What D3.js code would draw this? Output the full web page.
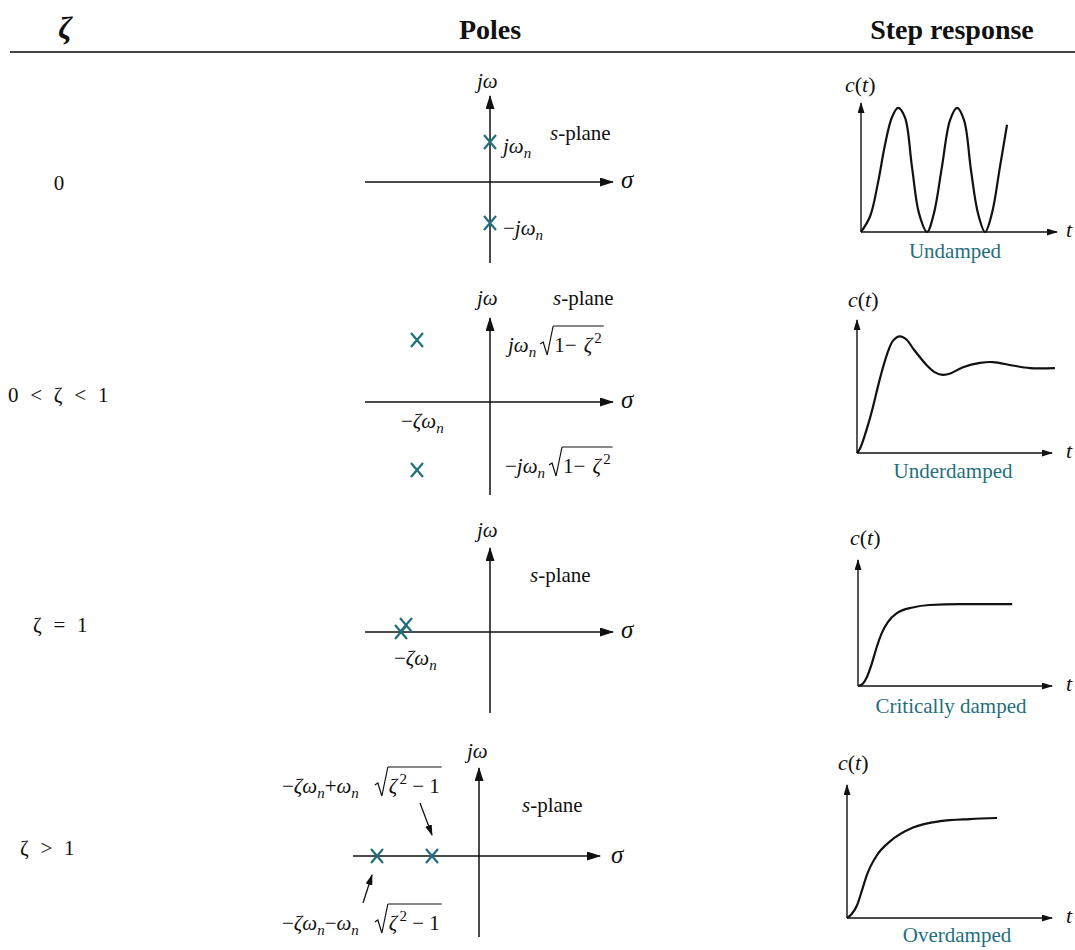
<!doctype html>
<html lang="en">
<head>
<meta charset="utf-8">
<title>Second-order system: damping ratio, poles and step response</title>
<script src="https://cdn.jsdelivr.net/npm/d3@7"></script>
<style>
  body { margin: 0; background: #fff; }
  svg { display: block; }
  text { font-family: "Liberation Serif", "Times New Roman", serif; fill: #111; }
</style>
</head>
<body>
<svg id="chart"></svg>
<script>
// ---- data ----
var headers = ["ζ", "Poles", "Step response"];
var zetaLabels = ["0", "0 < ζ < 1", "ζ = 1", "ζ > 1"];
var captions = ["Undamped", "Underdamped", "Critically damped", "Overdamped"];

// poles as [sigma, omega] in s-plane units
var polesUndamped = [[0, 0.40], [0, -0.41]];
var polesUnder = [[-0.73, 0.62], [-0.73, -0.68]];
var polesCritical = [[-0.89, 0], [-0.84, 0.07]];
var polesOver = [[-1.02, 0], [-0.47, 0]];

// step responses c(t) as [t, c]
var stepUndamped = [[0, 0], [0.46, 0.25], [0.87, 0.8], [1.22, 1.4], [1.58, 1.85], [1.89, 2.0], [2.24, 1.85],
  [2.6, 1.05], [2.96, 0.3], [3.37, 0], [3.72, 0.3], [4.13, 1.05], [4.54, 1.8], [4.9, 2.0], [5.26, 1.8],
  [5.61, 1.0], [5.97, 0.3], [6.33, 0], [6.68, 0.3], [7.09, 1.05], [7.45, 1.73]];
var stepUnder = [[0, 0], [0.15, 0.05], [0.67, 0.41], [1.18, 0.87], [1.54, 1.15], [1.85, 1.31], [2.2, 1.36],
  [2.55, 1.32], [2.87, 1.22], [3.59, 1.02], [4.0, 0.94], [4.41, 0.91], [4.82, 0.93], [5.44, 1.0],
  [6.31, 1.05], [6.97, 1.06], [7.97, 1.02], [8.87, 0.99], [10.15, 0.99]];
var stepCritical = [[0, 0], [0.21, 0.02], [0.46, 0.11], [0.72, 0.28], [0.97, 0.48], [1.23, 0.65], [1.54, 0.78],
  [2.0, 0.89], [2.82, 0.96], [3.69, 0.99], [5.23, 1.0], [7.95, 1.0]];
var stepOver = [[0, 0], [0.24, 0.04], [0.49, 0.12], [0.73, 0.26], [0.98, 0.41], [1.46, 0.59], [2.1, 0.72],
  [3.22, 0.85], [4.54, 0.91], [6.0, 0.93], [7.32, 0.94]];

// ---- layout ----
var W = 1075, H = 950;
var teal = "#1f6f7c";
var FS = 21;

var svg = d3.select("#chart").attr("width", W).attr("height", H);

var defs = svg.append("defs");
defs.append("marker").attr("id", "arrBig")
  .attr("markerWidth", 14).attr("markerHeight", 9).attr("refX", 13).attr("refY", 4.5)
  .attr("orient", "auto").attr("markerUnits", "userSpaceOnUse")
  .append("path").attr("d", "M0,0 L14,4.5 L0,9 Z").attr("fill", "#111");
defs.append("marker").attr("id", "arrSmall")
  .attr("markerWidth", 11).attr("markerHeight", 7).attr("refX", 10).attr("refY", 3.5)
  .attr("orient", "auto").attr("markerUnits", "userSpaceOnUse")
  .append("path").attr("d", "M0,0 L11,3.5 L0,7 Z").attr("fill", "#111");

// header
svg.append("text").attr("x", 65).attr("y", 39).attr("text-anchor", "middle")
  .attr("font-size", 31).attr("font-weight", "bold").attr("font-style", "italic").text(headers[0]);
svg.append("text").attr("x", 490).attr("y", 39).attr("text-anchor", "middle")
  .attr("font-size", 28).attr("font-weight", "bold").text(headers[1]);
svg.append("text").attr("x", 952).attr("y", 39).attr("text-anchor", "middle")
  .attr("font-size", 28).attr("font-weight", "bold").text(headers[2]);
svg.append("line").attr("x1", 10).attr("x2", W).attr("y1", 52).attr("y2", 52)
  .attr("stroke", "#444").attr("stroke-width", 2);

// zeta column
var zetaPos = [{x: 59, y: 190, a: "middle"}, {x: 8, y: 402, a: "start"},
  {x: 33, y: 632, a: "start"}, {x: 20, y: 855, a: "start"}];
svg.append("g").selectAll("text").data(zetaLabels).enter().append("text")
  .attr("x", function(d, i) { return zetaPos[i].x; })
  .attr("y", function(d, i) { return zetaPos[i].y; })
  .attr("text-anchor", function(d, i) { return zetaPos[i].a; })
  .attr("font-size", FS).style("word-spacing", "6.5px")
  .text(function(d) { return d; });

// math text helper: parts are {t, i, sub, sup, gap, sqrt, fs}
function mathText(g, x, y, parts) {
  var cx = x, rootX = null;
  parts.forEach(function(p) {
    if (p.gap) { cx += p.gap; return; }
    if (p.sqrt === "open") {
      g.append("path")
        .attr("d", "M" + cx + "," + (y - 8) + " l3,-2 l4,13 l6,-29")
        .attr("fill", "none").attr("stroke", "#111").attr("stroke-width", 1.2);
      rootX = cx + 13;
      cx += 14;
      return;
    }
    if (p.sqrt === "close") {
      g.append("line").attr("x1", rootX).attr("x2", cx + 2).attr("y1", y - 26).attr("y2", y - 26)
        .attr("stroke", "#111").attr("stroke-width", 1.2);
      return;
    }
    var small = p.sub || p.sup;
    var t = g.append("text").attr("x", cx).attr("y", y + (p.sub ? 5 : p.sup ? -9 : 0))
      .attr("font-size", p.fs || (small ? 15 : FS))
      .attr("font-style", p.i ? "italic" : "normal")
      .text(p.t);
    cx += t.node().getComputedTextLength();
  });
  return cx;
}

var NB = "\u00a0";
var JW = [{t: "j", i: 1}, {t: "ω", i: 1}];
var JWN = [{t: "j", i: 1}, {t: "ω", i: 1}, {t: "n", i: 1, sub: 1}];
var SPLANE = [{t: "s", i: 1}, {t: "-plane"}];
var SIGMA = [{t: "σ", i: 1, fs: 25}];
var ZWN = [{t: "−"}, {t: "ζ", i: 1}, {t: "ω", i: 1}, {t: "n", i: 1, sub: 1}];
var ROOT1 = [{gap: 4}, {sqrt: "open"}, {t: "1"}, {t: "−" + NB}, {gap: 2}, {t: "ζ", i: 1}, {gap: 2}, {t: "2", sup: 1}, {sqrt: "close"}];
var ROOT2 = [{gap: 16}, {sqrt: "open"}, {t: "ζ", i: 1}, {gap: 2}, {t: "2", sup: 1}, {t: NB + "−" + NB + "1"}, {sqrt: "close"}];

var poleRows = [
  {ox: 490, oy: 182, x0: -1.25, x1: 1.23, y0: -0.81, y1: 0.86, poles: polesUndamped,
    labels: [
      {x: 477, y: 88, p: JW}, {x: 621, y: 188, p: SIGMA}, {x: 550, y: 140, p: SPLANE},
      {x: 503, y: 153, p: JWN}, {x: 503, y: 235, p: [{t: "−"}].concat(JWN)}
    ]},
  {ox: 490, oy: 402, x0: -1.25, x1: 1.23, y0: -0.93, y1: 0.84, poles: polesUnder,
    labels: [
      {x: 477, y: 305, p: JW}, {x: 621, y: 408, p: SIGMA}, {x: 553, y: 305, p: SPLANE},
      {x: 508, y: 352, p: JWN.concat(ROOT1)}, {x: 401, y: 428, p: ZWN},
      {x: 505, y: 473, p: [{t: "−"}].concat(JWN, ROOT1)}
    ]},
  {ox: 490, oy: 632, x0: -1.25, x1: 1.23, y0: -0.81, y1: 0.84, poles: polesCritical,
    labels: [
      {x: 477, y: 537, p: JW}, {x: 621, y: 638, p: SIGMA}, {x: 530, y: 582, p: SPLANE},
      {x: 394, y: 665, p: ZWN}
    ]},
  {ox: 479, oy: 856, x0: -1.26, x1: 1.21, y0: -0.81, y1: 0.88, poles: polesOver,
    labels: [
      {x: 467, y: 758, p: JW}, {x: 611, y: 863, p: SIGMA}, {x: 522, y: 812, p: SPLANE},
      {x: 282, y: 793, p: ZWN.concat([{t: "+"}, {t: "ω", i: 1}, {t: "n", i: 1, sub: 1}], ROOT2)},
      {x: 282, y: 930, p: ZWN.concat([{t: "−"}, {t: "ω", i: 1}, {t: "n", i: 1, sub: 1}], ROOT2)}
    ],
    pointers: [{from: [-0.59, 0.53], to: [-0.47, 0.21]}, {from: [-1.16, -0.47], to: [-1.07, -0.19]}]}
];

var PX = 100; // pixels per s-plane unit
poleRows.forEach(function(r) {
  var g = svg.append("g");
  var xs = d3.scaleLinear().domain([0, 1]).range([r.ox, r.ox + PX]);
  var ys = d3.scaleLinear().domain([0, 1]).range([r.oy, r.oy - PX]);

  g.append("line").attr("x1", xs(r.x0)).attr("x2", xs(r.x1)).attr("y1", ys(0)).attr("y2", ys(0))
    .attr("stroke", "#111").attr("stroke-width", 1.5).attr("marker-end", "url(#arrBig)");
  g.append("line").attr("x1", xs(0)).attr("x2", xs(0)).attr("y1", ys(r.y0)).attr("y2", ys(r.y1))
    .attr("stroke", "#111").attr("stroke-width", 1.5).attr("marker-end", "url(#arrBig)");

  (r.pointers || []).forEach(function(pt) {
    g.append("line").attr("x1", xs(pt.from[0])).attr("y1", ys(pt.from[1]))
      .attr("x2", xs(pt.to[0])).attr("y2", ys(pt.to[1]))
      .attr("stroke", "#111").attr("stroke-width", 1.3).attr("marker-end", "url(#arrSmall)");
  });

  g.selectAll("path.pole").data(r.poles).enter().append("path").attr("class", "pole")
    .attr("transform", function(d) { return "translate(" + xs(d[0]) + "," + ys(d[1]) + ")"; })
    .attr("d", "M-6,-7 L6,7 M-6,7 L6,-7")
    .attr("stroke", teal).attr("stroke-width", 2.2).attr("fill", "none");

  r.labels.forEach(function(l) { mathText(g, l.x, l.y, l.p); });
});

// step responses
var stepRows = [
  {x0: 861, y0: 232, xTip: 1057, yTop: 103, cMax: 2.08, data: stepUndamped, curve: d3.curveCatmullRom, capX: 955, capY: 258, ctX: 845, ctY: 92, tY: 237},
  {x0: 857, y0: 453, xTip: 1052, yTop: 320, cMax: 1.55, data: stepUnder, curve: d3.curveCatmullRom, capX: 953, capY: 478, ctX: 848, ctY: 307, tY: 458},
  {x0: 858, y0: 686, xTip: 1052, yTop: 560, cMax: 1.54, data: stepCritical, curve: d3.curveMonotoneX, capX: 951, capY: 713, ctX: 850, ctY: 545, tY: 691},
  {x0: 847, y0: 918, xTip: 1052, yTop: 785, cMax: 1.25, data: stepOver, curve: d3.curveMonotoneX, capX: 957, capY: 942, ctX: 838, ctY: 770, tY: 923}
];

stepRows.forEach(function(r, i) {
  var g = svg.append("g");
  var xs = d3.scaleLinear().domain([0, 10]).range([r.x0, r.xTip]);
  var ys = d3.scaleLinear().domain([0, r.cMax]).range([r.y0, r.yTop]);

  g.append("line").attr("x1", xs(0)).attr("x2", xs(10)).attr("y1", ys(0)).attr("y2", ys(0))
    .attr("stroke", "#111").attr("stroke-width", 1.4).attr("marker-end", "url(#arrSmall)");
  g.append("line").attr("x1", xs(0)).attr("x2", xs(0)).attr("y1", ys(0)).attr("y2", ys(r.cMax))
    .attr("stroke", "#111").attr("stroke-width", 1.4).attr("marker-end", "url(#arrSmall)");

  var line = d3.line().x(function(d) { return xs(d[0]); }).y(function(d) { return ys(d[1]); })
    .curve(r.curve);
  g.append("path").datum(r.data).attr("d", line)
    .attr("fill", "none").attr("stroke", "#111").attr("stroke-width", 2.2);

  var ct = g.append("text").attr("x", r.ctX).attr("y", r.ctY).attr("font-size", FS + 1);
  ct.append("tspan").attr("font-style", "italic").text("c");
  ct.append("tspan").text("(");
  ct.append("tspan").attr("font-style", "italic").text("t");
  ct.append("tspan").text(")");

  g.append("text").attr("x", 1066).attr("y", r.tY).attr("font-size", FS + 1).attr("font-style", "italic").text("t");

  g.append("text").attr("x", r.capX).attr("y", r.capY).attr("text-anchor", "middle")
    .attr("font-size", FS).style("fill", teal).text(captions[i]);
});
</script>
</body>
</html>
